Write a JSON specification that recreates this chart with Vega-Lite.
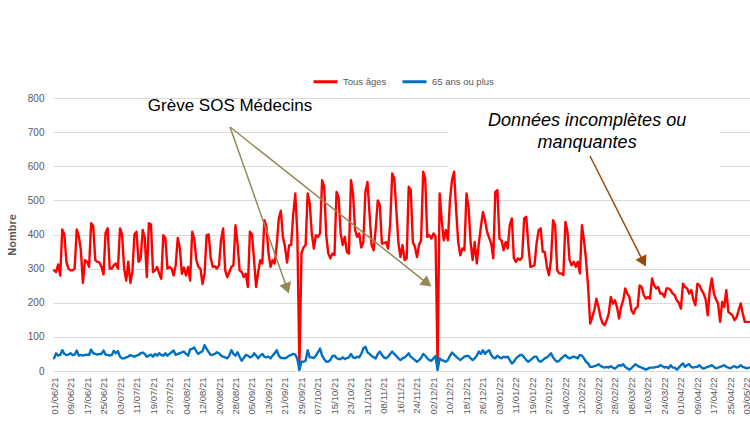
{
"$schema": "https://vega.github.io/schema/vega-lite/v6.json",
"width": 697, "height": 273,
"autosize": {"type": "none"},
"padding": {"left": 53, "top": 98, "right": 0, "bottom": 57},
"background": "white",
"config": {"view": {"stroke": null}, "font": "Liberation Sans"},
"datasets": {
"serie": [
{"d":"2021-06-01","t":295,"s":37},{"d":"2021-06-02","t":290,"s":52},{"d":"2021-06-03","t":312,"s":45},{"d":"2021-06-04","t":280,"s":47},{"d":"2021-06-05","t":415,"s":61},{"d":"2021-06-06","t":400,"s":50},{"d":"2021-06-07","t":320,"s":47},{"d":"2021-06-08","t":300,"s":48},{"d":"2021-06-09","t":295,"s":52},{"d":"2021-06-10","t":295,"s":47},
{"d":"2021-06-11","t":300,"s":48},{"d":"2021-06-12","t":415,"s":60},{"d":"2021-06-13","t":395,"s":45},{"d":"2021-06-14","t":355,"s":47},{"d":"2021-06-15","t":258,"s":45},{"d":"2021-06-16","t":325,"s":47},{"d":"2021-06-17","t":320,"s":48},{"d":"2021-06-18","t":305,"s":47},{"d":"2021-06-19","t":433,"s":63},{"d":"2021-06-20","t":425,"s":52},
{"d":"2021-06-21","t":325,"s":50},{"d":"2021-06-22","t":320,"s":48},{"d":"2021-06-23","t":318,"s":50},{"d":"2021-06-24","t":305,"s":50},{"d":"2021-06-25","t":283,"s":60},{"d":"2021-06-26","t":405,"s":48},{"d":"2021-06-27","t":418,"s":47},{"d":"2021-06-28","t":300,"s":45},{"d":"2021-06-29","t":300,"s":47},{"d":"2021-06-30","t":310,"s":59},
{"d":"2021-07-01","t":315,"s":52},{"d":"2021-07-02","t":300,"s":58},{"d":"2021-07-03","t":418,"s":42},{"d":"2021-07-04","t":400,"s":37},{"d":"2021-07-05","t":300,"s":37},{"d":"2021-07-06","t":265,"s":40},{"d":"2021-07-07","t":320,"s":42},{"d":"2021-07-08","t":258,"s":47},{"d":"2021-07-09","t":290,"s":44},{"d":"2021-07-10","t":400,"s":42},
{"d":"2021-07-11","t":408,"s":45},{"d":"2021-07-12","t":320,"s":47},{"d":"2021-07-13","t":330,"s":52},{"d":"2021-07-14","t":413,"s":54},{"d":"2021-07-15","t":390,"s":50},{"d":"2021-07-16","t":275,"s":42},{"d":"2021-07-17","t":433,"s":45},{"d":"2021-07-18","t":430,"s":48},{"d":"2021-07-19","t":290,"s":42},{"d":"2021-07-20","t":295,"s":50},
{"d":"2021-07-21","t":305,"s":45},{"d":"2021-07-22","t":285,"s":52},{"d":"2021-07-23","t":270,"s":47},{"d":"2021-07-24","t":398,"s":45},{"d":"2021-07-25","t":390,"s":52},{"d":"2021-07-26","t":300,"s":45},{"d":"2021-07-27","t":305,"s":50},{"d":"2021-07-28","t":300,"s":55},{"d":"2021-07-29","t":280,"s":60},{"d":"2021-07-30","t":310,"s":47},
{"d":"2021-07-31","t":390,"s":50},{"d":"2021-08-01","t":360,"s":52},{"d":"2021-08-02","t":285,"s":55},{"d":"2021-08-03","t":303,"s":57},{"d":"2021-08-04","t":280,"s":50},{"d":"2021-08-05","t":305,"s":45},{"d":"2021-08-06","t":265,"s":63},{"d":"2021-08-07","t":408,"s":65},{"d":"2021-08-08","t":388,"s":69},{"d":"2021-08-09","t":325,"s":58},
{"d":"2021-08-10","t":305,"s":50},{"d":"2021-08-11","t":300,"s":55},{"d":"2021-08-12","t":255,"s":58},{"d":"2021-08-13","t":285,"s":76},{"d":"2021-08-14","t":398,"s":65},{"d":"2021-08-15","t":400,"s":55},{"d":"2021-08-16","t":330,"s":47},{"d":"2021-08-17","t":305,"s":48},{"d":"2021-08-18","t":307,"s":50},{"d":"2021-08-19","t":300,"s":55},
{"d":"2021-08-20","t":310,"s":52},{"d":"2021-08-21","t":385,"s":45},{"d":"2021-08-22","t":418,"s":42},{"d":"2021-08-23","t":295,"s":40},{"d":"2021-08-24","t":275,"s":37},{"d":"2021-08-25","t":290,"s":45},{"d":"2021-08-26","t":305,"s":61},{"d":"2021-08-27","t":310,"s":50},{"d":"2021-08-28","t":427,"s":45},{"d":"2021-08-29","t":373,"s":55},
{"d":"2021-08-30","t":295,"s":42},{"d":"2021-08-31","t":290,"s":30},{"d":"2021-09-01","t":275,"s":38},{"d":"2021-09-02","t":285,"s":47},{"d":"2021-09-03","t":246,"s":45},{"d":"2021-09-04","t":408,"s":40},{"d":"2021-09-05","t":400,"s":42},{"d":"2021-09-06","t":325,"s":52},{"d":"2021-09-07","t":246,"s":45},{"d":"2021-09-08","t":290,"s":37},
{"d":"2021-09-09","t":325,"s":45},{"d":"2021-09-10","t":315,"s":50},{"d":"2021-09-11","t":442,"s":42},{"d":"2021-09-12","t":423,"s":40},{"d":"2021-09-13","t":345,"s":42},{"d":"2021-09-14","t":305,"s":37},{"d":"2021-09-15","t":325,"s":45},{"d":"2021-09-16","t":315,"s":52},{"d":"2021-09-17","t":370,"s":61},{"d":"2021-09-18","t":447,"s":45},
{"d":"2021-09-19","t":470,"s":38},{"d":"2021-09-20","t":393,"s":38},{"d":"2021-09-21","t":364,"s":37},{"d":"2021-09-22","t":318,"s":40},{"d":"2021-09-23","t":368,"s":45},{"d":"2021-09-24","t":370,"s":47},{"d":"2021-09-25","t":460,"s":50},{"d":"2021-09-26","t":520,"s":48},{"d":"2021-09-27","t":400,"s":35},{"d":"2021-09-28","t":15,"s":3},
{"d":"2021-09-29","t":345,"s":27},{"d":"2021-09-30","t":362,"s":27},{"d":"2021-10-01","t":369,"s":30},{"d":"2021-10-02","t":520,"s":61},{"d":"2021-10-03","t":491,"s":40},{"d":"2021-10-04","t":403,"s":40},{"d":"2021-10-05","t":359,"s":38},{"d":"2021-10-06","t":398,"s":45},{"d":"2021-10-07","t":393,"s":55},{"d":"2021-10-08","t":403,"s":66},
{"d":"2021-10-09","t":559,"s":45},{"d":"2021-10-10","t":540,"s":35},{"d":"2021-10-11","t":398,"s":27},{"d":"2021-10-12","t":344,"s":28},{"d":"2021-10-13","t":330,"s":32},{"d":"2021-10-14","t":344,"s":44},{"d":"2021-10-15","t":340,"s":45},{"d":"2021-10-16","t":525,"s":38},{"d":"2021-10-17","t":510,"s":35},{"d":"2021-10-18","t":403,"s":35},
{"d":"2021-10-19","t":369,"s":40},{"d":"2021-10-20","t":393,"s":35},{"d":"2021-10-21","t":349,"s":38},{"d":"2021-10-22","t":344,"s":40},{"d":"2021-10-23","t":559,"s":50},{"d":"2021-10-24","t":520,"s":40},{"d":"2021-10-25","t":413,"s":38},{"d":"2021-10-26","t":393,"s":42},{"d":"2021-10-27","t":403,"s":40},{"d":"2021-10-28","t":362,"s":50},
{"d":"2021-10-29","t":378,"s":66},{"d":"2021-10-30","t":525,"s":71},{"d":"2021-10-31","t":554,"s":55},{"d":"2021-11-01","t":461,"s":50},{"d":"2021-11-02","t":369,"s":44},{"d":"2021-11-03","t":354,"s":40},{"d":"2021-11-04","t":418,"s":37},{"d":"2021-11-05","t":500,"s":50},{"d":"2021-11-06","t":486,"s":57},{"d":"2021-11-07","t":373,"s":47},
{"d":"2021-11-08","t":375,"s":40},{"d":"2021-11-09","t":378,"s":37},{"d":"2021-11-10","t":359,"s":42},{"d":"2021-11-11","t":430,"s":50},{"d":"2021-11-12","t":579,"s":57},{"d":"2021-11-13","t":564,"s":50},{"d":"2021-11-14","t":471,"s":44},{"d":"2021-11-15","t":375,"s":37},{"d":"2021-11-16","t":334,"s":32},{"d":"2021-11-17","t":369,"s":37},
{"d":"2021-11-18","t":325,"s":40},{"d":"2021-11-19","t":330,"s":45},{"d":"2021-11-20","t":540,"s":52},{"d":"2021-11-21","t":530,"s":42},{"d":"2021-11-22","t":378,"s":37},{"d":"2021-11-23","t":364,"s":32},{"d":"2021-11-24","t":334,"s":27},{"d":"2021-11-25","t":369,"s":32},{"d":"2021-11-26","t":383,"s":38},{"d":"2021-11-27","t":584,"s":50},
{"d":"2021-11-28","t":564,"s":45},{"d":"2021-11-29","t":393,"s":37},{"d":"2021-11-30","t":398,"s":32},{"d":"2021-12-01","t":388,"s":30},{"d":"2021-12-02","t":403,"s":37},{"d":"2021-12-03","t":395,"s":44},{"d":"2021-12-04","t":15,"s":3},{"d":"2021-12-05","t":520,"s":37},{"d":"2021-12-06","t":442,"s":32},{"d":"2021-12-07","t":383,"s":30},
{"d":"2021-12-08","t":413,"s":27},{"d":"2021-12-09","t":383,"s":32},{"d":"2021-12-10","t":500,"s":45},{"d":"2021-12-11","t":560,"s":54},{"d":"2021-12-12","t":584,"s":48},{"d":"2021-12-13","t":471,"s":42},{"d":"2021-12-14","t":378,"s":37},{"d":"2021-12-15","t":339,"s":32},{"d":"2021-12-16","t":359,"s":37},{"d":"2021-12-17","t":354,"s":42},
{"d":"2021-12-18","t":520,"s":44},{"d":"2021-12-19","t":481,"s":44},{"d":"2021-12-20","t":378,"s":38},{"d":"2021-12-21","t":325,"s":32},{"d":"2021-12-22","t":378,"s":37},{"d":"2021-12-23","t":315,"s":45},{"d":"2021-12-24","t":374,"s":57},{"d":"2021-12-25","t":423,"s":50},{"d":"2021-12-26","t":466,"s":61},{"d":"2021-12-27","t":442,"s":50},
{"d":"2021-12-28","t":408,"s":57},{"d":"2021-12-29","t":390,"s":61},{"d":"2021-12-30","t":374,"s":47},{"d":"2021-12-31","t":330,"s":40},{"d":"2022-01-01","t":525,"s":37},{"d":"2022-01-02","t":530,"s":45},{"d":"2022-01-03","t":388,"s":40},{"d":"2022-01-04","t":383,"s":37},{"d":"2022-01-05","t":354,"s":42},{"d":"2022-01-06","t":378,"s":40},
{"d":"2022-01-07","t":359,"s":42},{"d":"2022-01-08","t":427,"s":32},{"d":"2022-01-09","t":447,"s":22},{"d":"2022-01-10","t":330,"s":27},{"d":"2022-01-11","t":320,"s":37},{"d":"2022-01-12","t":330,"s":42},{"d":"2022-01-13","t":325,"s":47},{"d":"2022-01-14","t":334,"s":47},{"d":"2022-01-15","t":447,"s":40},{"d":"2022-01-16","t":452,"s":32},
{"d":"2022-01-17","t":369,"s":27},{"d":"2022-01-18","t":305,"s":32},{"d":"2022-01-19","t":307,"s":37},{"d":"2022-01-20","t":310,"s":42},{"d":"2022-01-21","t":374,"s":42},{"d":"2022-01-22","t":413,"s":30},{"d":"2022-01-23","t":418,"s":27},{"d":"2022-01-24","t":349,"s":32},{"d":"2022-01-25","t":349,"s":37},{"d":"2022-01-26","t":305,"s":40},
{"d":"2022-01-27","t":281,"s":45},{"d":"2022-01-28","t":325,"s":52},{"d":"2022-01-29","t":442,"s":40},{"d":"2022-01-30","t":427,"s":32},{"d":"2022-01-31","t":295,"s":27},{"d":"2022-02-01","t":286,"s":30},{"d":"2022-02-02","t":286,"s":37},{"d":"2022-02-03","t":281,"s":42},{"d":"2022-02-04","t":437,"s":47},{"d":"2022-02-05","t":408,"s":40},
{"d":"2022-02-06","t":325,"s":37},{"d":"2022-02-07","t":310,"s":40},{"d":"2022-02-08","t":320,"s":42},{"d":"2022-02-09","t":305,"s":40},{"d":"2022-02-10","t":320,"s":37},{"d":"2022-02-11","t":286,"s":47},{"d":"2022-02-12","t":427,"s":45},{"d":"2022-02-13","t":383,"s":37},{"d":"2022-02-14","t":325,"s":27},{"d":"2022-02-15","t":246,"s":22},
{"d":"2022-02-16","t":139,"s":12},{"d":"2022-02-17","t":158,"s":12},{"d":"2022-02-18","t":178,"s":14},{"d":"2022-02-19","t":212,"s":16},{"d":"2022-02-20","t":188,"s":20},{"d":"2022-02-21","t":158,"s":15},{"d":"2022-02-22","t":140,"s":12},{"d":"2022-02-23","t":134,"s":10},{"d":"2022-02-24","t":149,"s":12},{"d":"2022-02-25","t":168,"s":10},
{"d":"2022-02-26","t":217,"s":14},{"d":"2022-02-27","t":197,"s":10},{"d":"2022-02-28","t":207,"s":7},{"d":"2022-03-01","t":188,"s":12},{"d":"2022-03-02","t":154,"s":17},{"d":"2022-03-03","t":188,"s":15},{"d":"2022-03-04","t":207,"s":20},{"d":"2022-03-05","t":242,"s":12},{"d":"2022-03-06","t":227,"s":8},{"d":"2022-03-07","t":217,"s":4},
{"d":"2022-03-08","t":178,"s":8},{"d":"2022-03-09","t":168,"s":14},{"d":"2022-03-10","t":183,"s":20},{"d":"2022-03-11","t":188,"s":15},{"d":"2022-03-12","t":251,"s":12},{"d":"2022-03-13","t":246,"s":10},{"d":"2022-03-14","t":222,"s":7},{"d":"2022-03-15","t":212,"s":4},{"d":"2022-03-16","t":217,"s":7},{"d":"2022-03-17","t":212,"s":10},
{"d":"2022-03-18","t":271,"s":10},{"d":"2022-03-19","t":251,"s":10},{"d":"2022-03-20","t":242,"s":12},{"d":"2022-03-21","t":246,"s":12},{"d":"2022-03-22","t":227,"s":17},{"d":"2022-03-23","t":227,"s":14},{"d":"2022-03-24","t":217,"s":10},{"d":"2022-03-25","t":242,"s":12},{"d":"2022-03-26","t":242,"s":8},{"d":"2022-03-27","t":237,"s":17},
{"d":"2022-03-28","t":227,"s":10},{"d":"2022-03-29","t":222,"s":10},{"d":"2022-03-30","t":207,"s":4},{"d":"2022-03-31","t":200,"s":10},{"d":"2022-04-01","t":183,"s":17},{"d":"2022-04-02","t":256,"s":22},{"d":"2022-04-03","t":246,"s":12},{"d":"2022-04-04","t":242,"s":17},{"d":"2022-04-05","t":227,"s":20},{"d":"2022-04-06","t":237,"s":12},
{"d":"2022-04-07","t":210,"s":10},{"d":"2022-04-08","t":193,"s":12},{"d":"2022-04-09","t":256,"s":12},{"d":"2022-04-10","t":251,"s":17},{"d":"2022-04-11","t":237,"s":10},{"d":"2022-04-12","t":227,"s":7},{"d":"2022-04-13","t":210,"s":10},{"d":"2022-04-14","t":163,"s":12},{"d":"2022-04-15","t":237,"s":14},{"d":"2022-04-16","t":271,"s":17},
{"d":"2022-04-17","t":227,"s":12},{"d":"2022-04-18","t":210,"s":8},{"d":"2022-04-19","t":198,"s":10},{"d":"2022-04-20","t":144,"s":12},{"d":"2022-04-21","t":202,"s":14},{"d":"2022-04-22","t":188,"s":17},{"d":"2022-04-23","t":237,"s":12},{"d":"2022-04-24","t":173,"s":10},{"d":"2022-04-25","t":168,"s":8},{"d":"2022-04-26","t":163,"s":12},
{"d":"2022-04-27","t":149,"s":14},{"d":"2022-04-28","t":158,"s":10},{"d":"2022-04-29","t":178,"s":12},{"d":"2022-04-30","t":198,"s":17},{"d":"2022-05-01","t":168,"s":12},{"d":"2022-05-02","t":144,"s":10},{"d":"2022-05-03","t":144,"s":8},{"d":"2022-05-04","t":144,"s":10}
]
},
"encoding": {
"x": {"field": "d", "type": "temporal",
"scale": {"type": "utc", "domain": [{"year": 2021, "month": 5, "date": 31, "hours": 12, "utc": true}, {"year": 2022, "month": 5, "date": 4, "hours": 12, "utc": true}]},
"axis": {"title": null, "labelExpr": "utcFormat(datum.value, '%d/%m/%y')", "labelAngle": -90, "labelFontSize": 9.5, "labelColor": "#595959", "labelPadding": 6, "ticks": false, "tickSize": 0, "domain": false, "grid": false, "labelOverlap": false, "labelFlush": false,
"values": [
{"year":2021,"month":6,"date":1,"utc":true},{"year":2021,"month":6,"date":9,"utc":true},{"year":2021,"month":6,"date":17,"utc":true},{"year":2021,"month":6,"date":25,"utc":true},
{"year":2021,"month":7,"date":3,"utc":true},{"year":2021,"month":7,"date":11,"utc":true},{"year":2021,"month":7,"date":19,"utc":true},{"year":2021,"month":7,"date":27,"utc":true},
{"year":2021,"month":8,"date":4,"utc":true},{"year":2021,"month":8,"date":12,"utc":true},{"year":2021,"month":8,"date":20,"utc":true},{"year":2021,"month":8,"date":28,"utc":true},
{"year":2021,"month":9,"date":5,"utc":true},{"year":2021,"month":9,"date":13,"utc":true},{"year":2021,"month":9,"date":21,"utc":true},{"year":2021,"month":9,"date":29,"utc":true},
{"year":2021,"month":10,"date":7,"utc":true},{"year":2021,"month":10,"date":15,"utc":true},{"year":2021,"month":10,"date":23,"utc":true},{"year":2021,"month":10,"date":31,"utc":true},
{"year":2021,"month":11,"date":8,"utc":true},{"year":2021,"month":11,"date":16,"utc":true},{"year":2021,"month":11,"date":24,"utc":true},
{"year":2021,"month":12,"date":2,"utc":true},{"year":2021,"month":12,"date":10,"utc":true},{"year":2021,"month":12,"date":18,"utc":true},{"year":2021,"month":12,"date":26,"utc":true},
{"year":2022,"month":1,"date":3,"utc":true},{"year":2022,"month":1,"date":11,"utc":true},{"year":2022,"month":1,"date":19,"utc":true},{"year":2022,"month":1,"date":27,"utc":true},
{"year":2022,"month":2,"date":4,"utc":true},{"year":2022,"month":2,"date":12,"utc":true},{"year":2022,"month":2,"date":20,"utc":true},{"year":2022,"month":2,"date":28,"utc":true},
{"year":2022,"month":3,"date":8,"utc":true},{"year":2022,"month":3,"date":16,"utc":true},{"year":2022,"month":3,"date":24,"utc":true},
{"year":2022,"month":4,"date":1,"utc":true},{"year":2022,"month":4,"date":9,"utc":true},{"year":2022,"month":4,"date":17,"utc":true},{"year":2022,"month":4,"date":25,"utc":true},
{"year":2022,"month":5,"date":3,"utc":true}
]}},
"y": {"field": "v", "type": "quantitative", "scale": {"domain": [0, 800]},
"axis": {"title": "Nombre", "values": [0, 100, 200, 300, 400, 500, 600, 700, 800], "grid": true, "gridColor": "#D9D9D9", "gridWidth": 1, "domain": false, "ticks": false, "tickSize": 0, "labelFontSize": 10, "labelColor": "#595959", "labelPadding": 9, "titleFontSize": 11, "titleColor": "#595959", "titleFontWeight": "bold", "titlePadding": 10}}
},
"layer": [
{
"data": {"name": "serie"},
"transform": [{"fold": ["t"], "as": ["k", "v"]}],
"mark": {"type": "line", "strokeWidth": 2.4, "strokeJoin": "round", "strokeCap": "round"},
"encoding": {
"color": {"field": "k", "type": "nominal",
"scale": {"domain": ["t", "s"], "range": ["#FF0000", "#0070C0"]},
"legend": {"title": null, "orient": "none", "legendX": 259, "legendY": -30, "direction": "horizontal", "symbolType": "stroke", "symbolStrokeWidth": 3, "symbolSize": 576, "labelFontSize": 9.5, "labelColor": "#595959", "columnPadding": 9, "labelOffset": 4, "padding": 0,
"labelExpr": "datum.label == 't' ? 'Tous âges' : '65 ans ou plus'"}}
}
},
{
"data": {"name": "serie"},
"transform": [{"fold": ["s"], "as": ["k", "v"]}],
"mark": {"type": "line", "strokeWidth": 2.4, "strokeJoin": "round", "strokeCap": "round"},
"encoding": {
"color": {"field": "k", "type": "nominal"}
}
},
{
"data": {"values": [{"d": "2021-12-09T01:00:00Z", "d2": "2022-04-20T00:00:00Z", "v": 590, "v2": 790}]},
"mark": {"type": "rect", "color": "white"},
"encoding": {"x2": {"field": "d2"}, "y2": {"field": "v2"}}
},
{
"data": {"values": [
{"d": "2021-08-25T08:00:00Z", "v": 715, "d2": "2021-09-22T00:00:00Z", "v2": 242},
{"d": "2021-08-25T08:00:00Z", "v": 715, "d2": "2021-11-29T00:00:00Z", "v2": 257}
]},
"mark": {"type": "rule", "color": "#948A54", "strokeWidth": 1.5},
"encoding": {"x2": {"field": "d2"}, "y2": {"field": "v2"}}
},
{
"data": {"values": [{"d": "2021-09-22T00:00:00Z", "v": 242}]},
"mark": {"type": "point", "shape": "triangle-up", "filled": true, "color": "#948A54", "opacity": 1, "size": 150, "angle": 160}
},
{
"data": {"values": [{"d": "2021-11-29T00:00:00Z", "v": 257}]},
"mark": {"type": "point", "shape": "triangle-up", "filled": true, "color": "#948A54", "opacity": 1, "size": 150, "angle": 128}
},
{
"data": {"values": [{"d": "2022-02-15T22:00:00Z", "v": 630, "d2": "2022-03-13T19:00:00Z", "v2": 320}]},
"mark": {"type": "rule", "color": "#984807", "strokeWidth": 1.5},
"encoding": {"x2": {"field": "d2"}, "y2": {"field": "v2"}}
},
{
"data": {"values": [{"d": "2022-03-13T19:00:00Z", "v": 320}]},
"mark": {"type": "point", "shape": "triangle-up", "filled": true, "color": "#984807", "opacity": 1, "size": 150, "angle": 153}
},
{
"data": {"values": [{"d": "2021-08-25T08:00:00Z", "v": 777, "label": "Grève SOS Médecins"}]},
"mark": {"type": "text", "fontSize": 17, "color": "black", "align": "center", "baseline": "middle", "font": "Liberation Sans"},
"encoding": {"text": {"field": "label"}}
},
{
"data": {"values": [{"d": "2022-02-14T12:00:00Z", "v": 733, "label": "Données incomplètes ou"}, {"d": "2022-02-14T12:00:00Z", "v": 668, "label": "manquantes"}]},
"mark": {"type": "text", "fontSize": 18, "fontStyle": "italic", "color": "black", "align": "center", "baseline": "middle", "font": "Liberation Sans"},
"encoding": {"text": {"field": "label"}}
}
]
}
